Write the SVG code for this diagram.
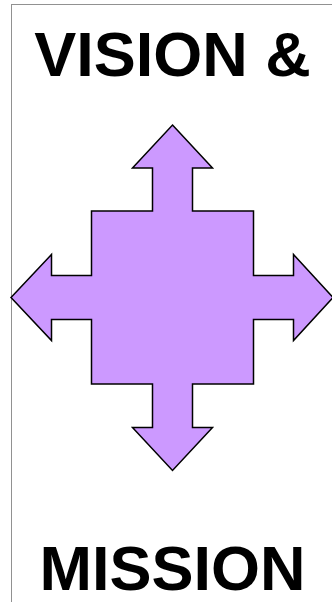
<svg xmlns="http://www.w3.org/2000/svg" width="332" height="602" viewBox="0 0 332 602">
<style>
.t{font-family:"Liberation Sans",Arial,sans-serif;font-weight:bold;font-size:63px;fill:#000;text-anchor:middle}
</style>
<rect x="0" y="0" width="332" height="602" fill="#fff"/>
<rect x="11.5" y="4.5" width="400" height="700" fill="none" stroke="#222" stroke-width="1" stroke-dasharray="1 1"/>
<g id="title-top"><text class="t" x="172.5" y="76">VISION &amp;</text></g>
<g id="arrows">
<path d="M172.5,125 L212.5,168 L192.5,168 L192.5,211 L253.5,211 L253.5,275.5 L293.5,275.5 L293.5,254.5 L333,297.5 L293.5,340.5 L293.5,319.5 L253.5,319.5 L253.5,384 L192.5,384 L192.5,427.5 L212.5,427.5 L172.5,470.5 L132.5,427.5 L152.5,427.5 L152.5,384 L91.5,384 L91.5,319.5 L51.5,319.5 L51.5,340.5 L11,297.5 L51.5,254.5 L51.5,275.5 L91.5,275.5 L91.5,211 L152.5,211 L152.5,168 L132.5,168 Z" fill="#CC99FF" stroke="#000" stroke-width="1.5" stroke-linejoin="miter"/>
</g>
<g id="title-bottom"><text class="t" x="172.5" y="590">MISSION</text></g>
</svg>
